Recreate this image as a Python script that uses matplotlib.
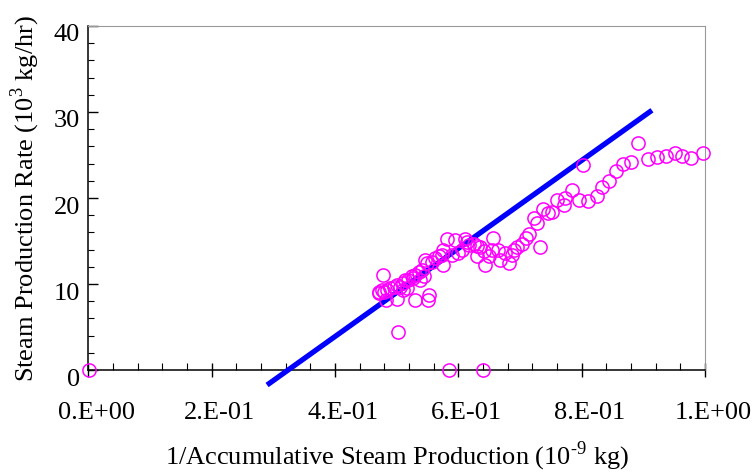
import numpy as np
import matplotlib
matplotlib.use("Agg")
import matplotlib.pyplot as plt
import matplotlib.transforms as mtrans
from matplotlib.ticker import MultipleLocator, FuncFormatter

# measured points: x = 1/accumulative steam production, y = steam rate
inv_prod = [0.002, 0.471, 0.472, 0.476, 0.478, 0.479, 0.482, 0.484, 0.490, 0.495,
            0.500, 0.500, 0.502, 0.506, 0.511, 0.511, 0.514, 0.517, 0.519, 0.525,
            0.527, 0.530, 0.530, 0.536, 0.538, 0.541, 0.544, 0.546, 0.549, 0.551,
            0.552, 0.557, 0.563, 0.568, 0.573, 0.575, 0.576, 0.582, 0.585, 0.590,
            0.595, 0.600, 0.606, 0.611, 0.614, 0.617, 0.625, 0.630, 0.630, 0.636,
            0.640, 0.641, 0.644, 0.649, 0.655, 0.657, 0.665, 0.668, 0.676, 0.682,
            0.687, 0.690, 0.695, 0.703, 0.709, 0.714, 0.722, 0.727, 0.732, 0.738,
            0.746, 0.752, 0.760, 0.771, 0.773, 0.784, 0.795, 0.803, 0.811, 0.825,
            0.833, 0.844, 0.855, 0.867, 0.880, 0.892, 0.907, 0.922, 0.937, 0.952,
            0.963, 0.978, 0.996]
steam_rate = [0.0, 9.1, 8.9, 9.3, 11.05, 9.1, 8.1, 9.3, 9.5, 9.7,
              9.9, 8.3, 4.45, 9.7, 10.1, 9.3, 10.5, 9.5, 10.5, 10.9,
              10.7, 11.0, 8.14, 11.4, 10.5, 11.6, 10.9, 12.8, 12.4, 8.2,
              8.7, 12.6, 13.0, 13.2, 13.4, 12.2, 14.0, 15.2, 0.0, 13.4,
              15.1, 13.6, 14.0, 15.2, 14.9, 14.5, 14.7, 14.4, 13.2, 14.3,
              0.0, 13.8, 12.2, 13.2, 14.0, 15.4, 14.0, 12.8, 13.6, 12.5,
              13.4, 14.0, 14.3, 14.7, 15.3, 15.8, 17.7, 17.1, 14.3, 18.7,
              18.2, 18.4, 19.8, 19.2, 20.0, 20.9, 19.8, 23.8, 19.6, 20.2,
              21.3, 22.0, 23.1, 24.0, 24.2, 26.4, 24.5, 24.8, 24.9, 25.2,
              24.9, 24.6, 25.2]

# fitted straight line (end points)
fit_x = [0.290, 0.914]
fit_y = [-1.74, 30.2]

plt.rcParams["font.family"] = ["Liberation Serif", "DejaVu Serif"]
plt.rcParams["mathtext.fontset"] = "custom"
plt.rcParams["mathtext.rm"] = "Liberation Serif"

fig = plt.figure(figsize=(7.54, 4.72), dpi=100)
ax = fig.add_axes([0.117, 0.216, 0.818, 0.729])

ax.plot(fit_x, fit_y, color="#0000ff", lw=3.8, solid_capstyle="butt", clip_on=False, zorder=3)
ax.plot(inv_prod, steam_rate, "o", mfc="none", mec="#ff00ff", mew=1.1, ms=9.5,
        clip_on=False, zorder=4)

ax.set_xlim(0, 1.0)
ax.set_ylim(0, 40)
ax.xaxis.set_major_locator(MultipleLocator(0.2))
ax.xaxis.set_minor_locator(MultipleLocator(0.04))
ax.yaxis.set_major_locator(MultipleLocator(10))
ax.yaxis.set_minor_locator(MultipleLocator(2))
ax.xaxis.set_major_formatter(FuncFormatter(
    lambda v, p: "0.E+00" if abs(v) < 1e-9 else ("1.E+00" if abs(v - 1) < 1e-9 else "%d.E-01" % round(v * 10))))

ax.tick_params(axis="x", which="major", direction="inout", length=10, width=1, labelsize=19, pad=18)
ax.tick_params(axis="x", which="minor", direction="in", length=5, width=0.8)
ax.tick_params(axis="y", which="major", direction="in", length=7, width=1, labelsize=19, pad=6)
ax.tick_params(axis="y", which="minor", direction="in", length=4, width=0.8)

# labels in the original sit a little off their ticks
shift_x = mtrans.ScaledTranslation(8 / 100, 0, fig.dpi_scale_trans)
for lab in ax.get_xticklabels():
    lab.set_transform(lab.get_transform() + shift_x)
shift_y = mtrans.ScaledTranslation(0, -7 / 100, fig.dpi_scale_trans)
for lab in ax.get_yticklabels():
    lab.set_transform(lab.get_transform() + shift_y)

for s in ("top", "right"):
    ax.spines[s].set_color("#999999")
for s in ("left", "bottom"):
    ax.spines[s].set_color("black")
    ax.spines[s].set_linewidth(1.1)

ax.set_xlabel("1/Accumulative Steam Production (10$^{\\mathregular{\\text{-9}}}$ kg)", fontsize=19, labelpad=11)
ax.set_ylabel("Steam Production Rate (10$^{\\mathregular{3}}$ kg/hr)", fontsize=19, labelpad=8)

fig.savefig("out.png", dpi=100)
